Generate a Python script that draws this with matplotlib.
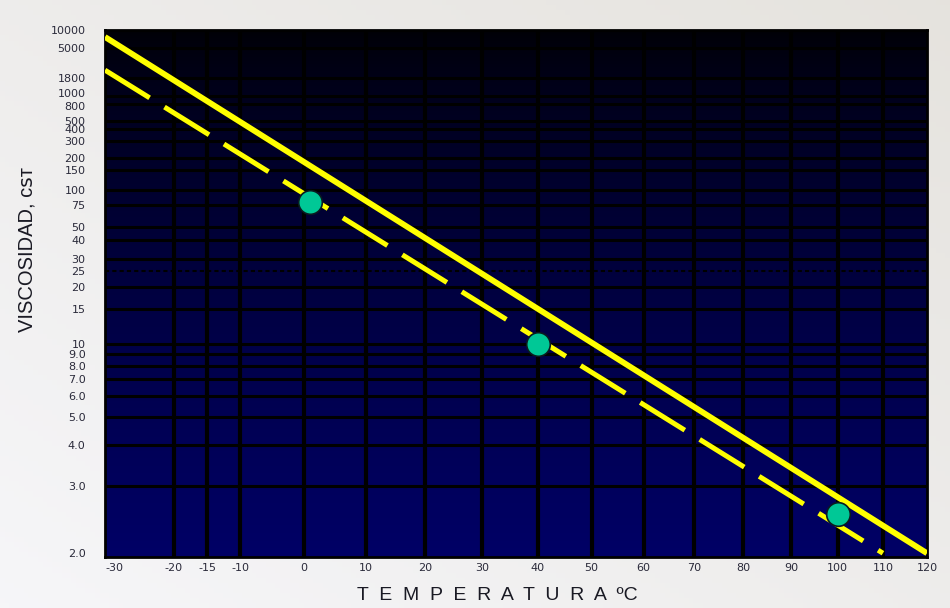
import matplotlib.pyplot as plt
import matplotlib.transforms as mtransforms
import numpy as np

# viscosity / temperature chart (ASTM style scales)
temp_ticks = [-30, -20, -15, -10, 0, 10, 20, 30, 40, 50, 60, 70, 80, 90, 100, 110, 120]
visc_ticks = [2.0, 3.0, 4.0, 5.0, 6.0, 7.0, 8.0, 9.0, 10, 15, 20, 25, 30, 40, 50,
              75, 100, 150, 200, 300, 400, 500, 800, 1000, 1800, 5000, 10000]
visc_labels = ["2.0", "3.0", "4.0", "5.0", "6.0", "7.0", "8.0", "9.0", "10", "15", "20",
               "25", "30", "40", "50", "75", "100", "150", "200", "300", "400", "500",
               "800", "1000", "1800", "5000", "10000"]

solid_t = [-30, 120]
solid_v = [7600, 2.0]
dash_t = [-30, 110]
dash_v = [2300, 2.0]
pts_t = [1, 40, 100]
pts_v = [78, 10, 2.5]


def t_fwd(t):
    t = np.asarray(t, dtype=float)
    with np.errstate(all="ignore"):
        return np.log10(t + 273.15)


def t_inv(x):
    return 10 ** np.asarray(x, dtype=float) - 273.15


def v_fwd(v):
    v = np.asarray(v, dtype=float)
    with np.errstate(all="ignore"):
        return np.log10(np.log10(v + 0.6))


def v_inv(y):
    return 10 ** (10 ** np.asarray(y, dtype=float)) - 0.6


plt.rcParams['font.family'] = ['Liberation Sans', 'DejaVu Sans']

fig = plt.figure(figsize=(9.5, 6.08), dpi=100)

# light page background
bg = fig.add_axes([0, 0, 1, 1], zorder=-5)
gx = np.linspace(0, 1, 200)
gy = np.linspace(0, 1, 120)
X, Y = np.meshgrid(gx, gy)
g = 0.5 * X + 0.5 * (1 - Y)
c1 = np.array([0.965, 0.965, 0.975])
c2 = np.array([0.90, 0.89, 0.87])
img = c1[None, None, :] * (1 - g[..., None]) + c2[None, None, :] * g[..., None]
bg.imshow(img, extent=[0, 1, 0, 1], aspect="auto", origin="upper")
bg.axis("off")

ax = fig.add_axes([105 / 950, 1 - 557 / 608, (927 - 105) / 950, (557 - 30) / 608])
ax.set_xscale("function", functions=(t_fwd, t_inv))
ax.set_yscale("function", functions=(v_fwd, v_inv))
ax.set_xlim(-30, 120)
ax.set_ylim(1.96, 10000)

# dark navy gradient in the plot area
ramp = np.linspace(0, 1, 256) ** 0.7
top = np.array([0.0, 0.0, 0.02])
bot = np.array([0.0, 0.0, 0.40])
grad = top[None, :] * (1 - ramp[:, None]) + bot[None, :] * ramp[:, None]
ax.imshow(grad[:, None, :], extent=[0, 1, 0, 1], transform=ax.transAxes,
          aspect="auto", origin="upper", zorder=0)

for t in temp_ticks[1:-1]:
    ax.axvline(t, color="black", lw=3, zorder=1)
for v in visc_ticks[1:-1]:
    if v == 25:
        ax.axhline(v, color="black", lw=1.5, ls=(0, (2, 1.5)), zorder=1)
    else:
        ax.axhline(v, color="black", lw=2.2, zorder=1)

ax.plot(solid_t, solid_v, color="#ffff00", lw=4.2, zorder=3, solid_capstyle="butt")
ax.plot(dash_t, dash_v, color="#ffff00", lw=3.6, ls=(0, (10.5, 3.5)), zorder=3,
        dash_capstyle="butt")
ax.plot(pts_t, pts_v, "o", color="#00c896", markersize=17, markeredgecolor="#0a1a20",
        markeredgewidth=1.2, zorder=4)

ax.set_xticks(temp_ticks)
ax.set_xticklabels([str(t) for t in temp_ticks], family="DejaVu Sans")
ax.set_yticks(visc_ticks)
ax.set_yticklabels(visc_labels, family="DejaVu Sans")
ax.minorticks_off()
ax.tick_params(axis="both", length=0, colors="#2a2a3a", labelsize=8)
ax.tick_params(axis="y", pad=14)
ax.tick_params(axis="x", pad=4)
ax.get_xticklabels()[0].set_horizontalalignment("left")

# crowded labels: nudge 1000 up and 800 down a little
for lab in ax.get_yticklabels():
    if lab.get_text() in ("1000", "800"):
        dy = 2.5 if lab.get_text() == "1000" else -1.5
        lab.set_transform(lab.get_transform() +
                          mtransforms.ScaledTranslation(0, dy / 72, fig.dpi_scale_trans))

for s in ax.spines.values():
    s.set_color("black")
    s.set_linewidth(2)

fig.text(497 / 950, 1 - 596 / 608, "T  E  M  P  E  R  A  T  U  R  A  ºC",
         ha="center", va="center", fontsize=14, color="#1a1a24")
fig.text(27 / 950, 1 - 249 / 608, "VISCOSIDAD, cꜱᴛ", rotation=90,
         ha="center", va="center", fontsize=14.5, color="#1a1a24")

fig.savefig("out.png", dpi=100)
